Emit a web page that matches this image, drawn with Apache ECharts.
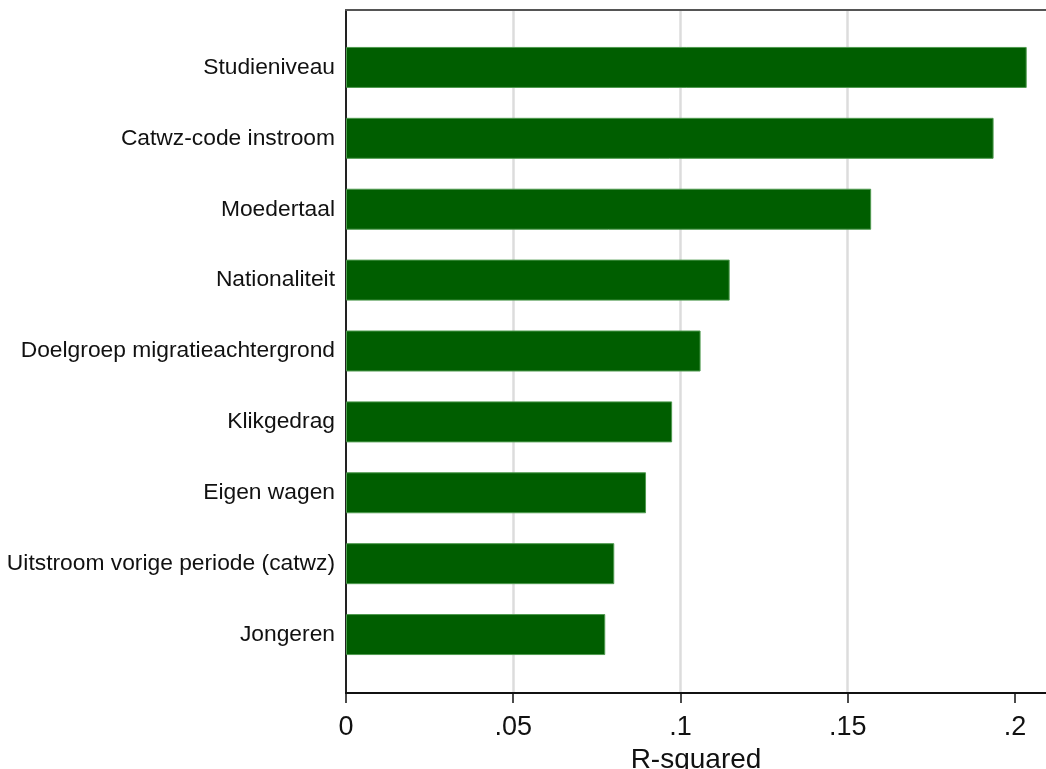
<!DOCTYPE html>
<html>
<head>
<meta charset="utf-8">
<script src="https://cdn.jsdelivr.net/npm/echarts@6/dist/echarts.min.js"></script>
<style>
html,body{margin:0;padding:0;background:#fff;}
#c{width:1046px;height:769px;}
</style>
</head>
<body>
<div id="c"></div>
<script>
var categories = ["Studieniveau","Catwz-code instroom","Moedertaal","Nationaliteit","Doelgroep migratieachtergrond","Klikgedrag","Eigen wagen","Uitstroom vorige periode (catwz)","Jongeren"];
var rsquared = [0.2035,0.1936,0.1570,0.1147,0.1060,0.0975,0.0897,0.0802,0.0775];
var xTickValues = [0,0.05,0.1,0.15,0.2];
var xTickLabels = ["0",".05",".1",".15",".2"];
var axisTitle = "R-squared";
var xMax = 0.20927;

var chart = echarts.init(document.getElementById('c'), null, {renderer:'canvas'});
var font = '"Liberation Sans", Arial, sans-serif';
chart.setOption({
  animation:false,
  backgroundColor:'#fff',
  grid:[
    {left:346,right:0,top:32,height:638,outerBoundsMode:'none',containLabel:false},
    {left:346,right:0,top:10,bottom:76,outerBoundsMode:'none',containLabel:false}
  ],
  xAxis:[
    {gridIndex:0,type:'value',min:0,max:xMax,show:false},
    {gridIndex:1,type:'value',min:0,max:xMax,interval:0.05,position:'bottom',
     axisLine:{show:true,lineStyle:{color:'#111',width:2}},
     axisTick:{show:true,length:10,lineStyle:{color:'#111',width:1.5},customValues:xTickValues},
     axisLabel:{show:true,margin:21,fontSize:27,color:'#111',fontFamily:font,
       customValues:xTickValues,
       formatter:function(v){var i=xTickValues.findIndex(function(t){return Math.abs(t-v)<1e-9;});return i>=0?xTickLabels[i]:'';}},
     splitLine:{show:true,showMinLine:false,showMaxLine:false,lineStyle:{color:'#dcdcdc',width:2.5}},
     name:axisTitle,nameLocation:'middle',nameGap:48,
     nameTextStyle:{fontSize:28,color:'#111',fontFamily:font}},
    {gridIndex:1,type:'value',min:0,max:xMax,position:'top',
     axisLine:{show:true,lineStyle:{color:'#555',width:2}},
     axisTick:{show:false},axisLabel:{show:false},splitLine:{show:false}}
  ],
  yAxis:[
    {gridIndex:0,type:'category',data:categories,inverse:true,
     axisLine:{show:false},axisTick:{show:false},
     axisLabel:{margin:11,fontSize:22.8,color:'#111',fontFamily:font}},
    {gridIndex:1,type:'value',min:0,max:1,
     axisLine:{show:true,onZero:false,lineStyle:{color:'#222',width:2}},
     axisTick:{show:false},axisLabel:{show:false},splitLine:{show:false}}
  ],
  series:[{
    type:'bar',xAxisIndex:0,yAxisIndex:0,data:rsquared,barWidth:41,
    itemStyle:{color:'#005e00',borderColor:'#4f9a4f',borderWidth:1},
    z:3
  }]
});
</script>
</body>
</html>
